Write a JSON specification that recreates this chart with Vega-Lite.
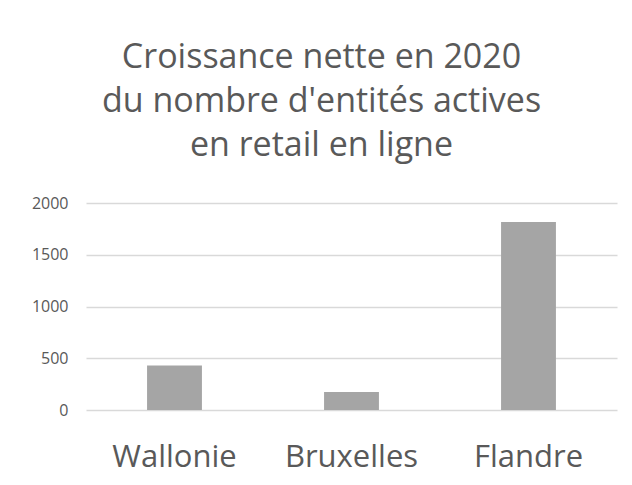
{
  "$schema": "https://vega.github.io/schema/vega-lite/v6.json",
  "autosize": {"type": "none"},
  "width": 531,
  "height": 207,
  "padding": {"left": 86, "top": 203, "right": 15, "bottom": 75},
  "background": "white",
  "title": {
    "text": ["Croissance nette en 2020", "du nombre d'entités actives", "en retail en ligne"],
    "font": "Open Sans",
    "fontSize": 34,
    "fontWeight": "normal",
    "color": "#595959",
    "lineHeight": 44,
    "anchor": "middle",
    "frame": "group",
    "dx": -30,
    "offset": 32
  },
  "data": {
    "values": [
      {"region": "Wallonie", "value": 430},
      {"region": "Bruxelles", "value": 173},
      {"region": "Flandre", "value": 1817}
    ]
  },
  "mark": {"type": "bar", "color": "#a5a5a5"},
  "encoding": {
    "x": {
      "field": "region",
      "type": "nominal",
      "sort": null,
      "scale": {"paddingInner": 0.69, "paddingOuter": 0.345},
      "axis": {
        "title": null,
        "labelAngle": 0,
        "labelFont": "Open Sans",
        "labelFontSize": 31,
        "labelColor": "#595959",
        "labelPadding": 32,
        "ticks": false,
        "domain": false
      }
    },
    "y": {
      "field": "value",
      "type": "quantitative",
      "scale": {"domain": [0, 2000]},
      "axis": {
        "title": null,
        "values": [0, 500, 1000, 1500, 2000],
        "format": "d",
        "labelFont": "Open Sans",
        "labelFontSize": 16,
        "labelColor": "#595959",
        "labelPadding": 18,
        "ticks": false,
        "domain": false,
        "gridColor": "#d9d9d9",
        "gridWidth": 1.5
      }
    }
  },
  "config": {"view": {"stroke": null}}
}
